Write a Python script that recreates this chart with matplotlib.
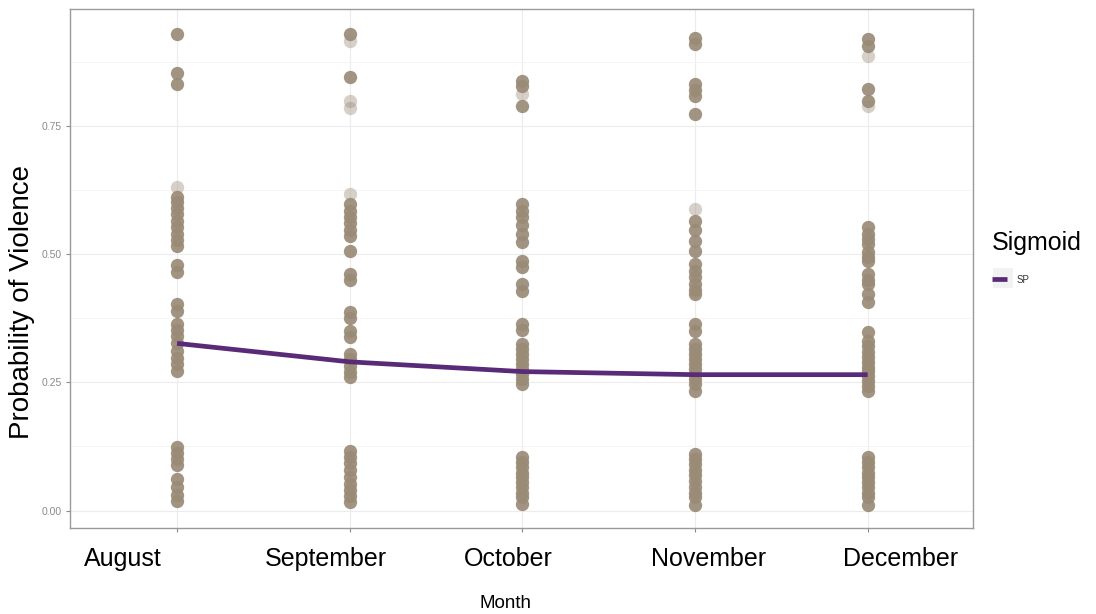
import numpy as np
import matplotlib.pyplot as plt
import matplotlib.transforms as mtransforms
from matplotlib.patches import Rectangle

plt.rcParams['font.family'] = ['Liberation Sans', 'DejaVu Sans']

# Mesi e probabilita' osservate per ogni mese
months = ["August", "September", "October", "November", "December"]

aug = [0.930, 0.854, 0.832, 0.612, 0.602, 0.590, 0.578, 0.565, 0.552, 0.540, 0.528,
       0.516, 0.478, 0.466, 0.403, 0.390, 0.364, 0.352, 0.340, 0.326, 0.312,
       0.298, 0.285, 0.273, 0.123, 0.113, 0.100, 0.088, 0.062, 0.045, 0.030, 0.019]
sep = [0.929, 0.845, 0.598, 0.585, 0.572, 0.560, 0.548, 0.536, 0.507, 0.462,
       0.450, 0.387, 0.375, 0.351, 0.338, 0.306, 0.295, 0.282, 0.270, 0.260,
       0.117, 0.104, 0.092, 0.080, 0.066, 0.052, 0.040, 0.028, 0.016]
oct_ = [0.838, 0.828, 0.789, 0.598, 0.585, 0.572, 0.556, 0.540, 0.523, 0.487, 0.474,
        0.442, 0.429, 0.364, 0.352, 0.325, 0.315, 0.306, 0.296, 0.286, 0.276,
        0.267, 0.257, 0.247, 0.104, 0.094, 0.084, 0.074, 0.065, 0.055, 0.045,
        0.035, 0.026, 0.013]
nov = [0.922, 0.910, 0.832, 0.820, 0.809, 0.773, 0.565, 0.548, 0.526, 0.507, 0.481,
       0.468, 0.456, 0.442, 0.430, 0.422, 0.364, 0.350, 0.325, 0.315, 0.306,
       0.296, 0.286, 0.276, 0.266, 0.256, 0.247, 0.234, 0.110, 0.100, 0.091,
       0.080, 0.070, 0.057, 0.045, 0.035, 0.026, 0.010]
dec = [0.919, 0.906, 0.822, 0.799, 0.552, 0.540, 0.530, 0.520, 0.505, 0.495,
       0.487, 0.461, 0.450, 0.442, 0.422, 0.406, 0.348, 0.330, 0.320, 0.309, 0.299,
       0.290, 0.280, 0.273, 0.263, 0.253, 0.243, 0.234, 0.104, 0.094, 0.084, 0.074,
       0.065, 0.055, 0.045, 0.035, 0.026, 0.010]

# osservazioni singole (piu' chiare)
aug_single = [0.630]
sep_single = [0.916, 0.799, 0.784, 0.618]
oct_single = [0.812]
nov_single = [0.588]
dec_single = [0.887, 0.789]

# curva sigmoide (SP)
sp = [0.326, 0.290, 0.271, 0.265, 0.265]

fig = plt.figure(figsize=(10.96, 6.14), dpi=100)
ax = fig.add_axes([70 / 1096, 1 - 527.5 / 614, 903 / 1096, 518.5 / 614])

point_col = '#9a8b77'
for i, (vals, singles) in enumerate(zip([aug, sep, oct_, nov, dec],
                                        [aug_single, sep_single, oct_single,
                                         nov_single, dec_single])):
    ax.scatter([i] * len(singles), singles, s=92, color=point_col, alpha=0.4,
               linewidths=0, zorder=3)
    ax.scatter([i] * len(vals), vals, s=92, color=point_col, alpha=0.92,
               linewidths=0, zorder=3)

ax.plot(range(len(months)), sp, color='#592a77', lw=3.4, solid_capstyle='butt',
        zorder=4, label='SP')

ax.set_xlim(-0.62, 4.61)
ax.set_ylim(-0.033, 0.978)
ax.set_yticks([0, 0.25, 0.5, 0.75])
ax.set_yticklabels(["0.00", "0.25", "0.50", "0.75"], fontsize=7.5, color='#8a8a8a')
ax.set_yticks([0.125, 0.375, 0.625, 0.875], minor=True)
ax.set_xticks(range(len(months)))
ax.set_xticklabels(months, fontsize=18)
ax.tick_params(axis='y', which='major', length=3, color='#8a8a8a', pad=3)
ax.tick_params(axis='y', which='minor', length=0)
ax.tick_params(axis='x', length=3, color='#8a8a8a', pad=11)

# sposta le etichette dei mesi
shifts = [-54, -24, -14, 14, 33]
for lab, dx in zip(ax.get_xticklabels(), shifts):
    lab.set_transform(lab.get_transform() +
                      mtransforms.ScaledTranslation(dx / 100, 0, fig.dpi_scale_trans))

ax.grid(True, which='major', color='#ececec', lw=0.8)
ax.grid(True, which='minor', axis='y', color='#f4f4f4', lw=0.6)
ax.set_axisbelow(True)
for s in ax.spines.values():
    s.set_color('#9a9a9a')
    s.set_linewidth(1.0)

ax.set_xlabel("Month", fontsize=13.5)
ax.xaxis.label.set_va('center')
ax.xaxis.set_label_coords((506 - 70) / 903, -(604 - 527.5) / 518.5)
ax.set_ylabel("Probability of Violence", fontsize=20)
ax.yaxis.label.set_va('center')
ax.yaxis.set_label_coords((22 - 70) / 903, 1 - (302 - 9) / 518.5)

# legenda
fig.patches.append(Rectangle((993 / 1096, 1 - 288 / 614), 20 / 1096, 20 / 614,
                             transform=fig.transFigure, facecolor='#f2f2f2',
                             edgecolor='none'))
leg = fig.legend(loc='upper left', bbox_to_anchor=(983 / 1096, 1 - 222 / 614),
                 title='Sigmoid', fontsize=7, title_fontsize=18, frameon=False,
                 handlelength=1.6, handletextpad=1.0, labelspacing=2.05,
                 alignment='left')
leg.get_texts()[0].set_color('#333333')

fig.savefig("out.png", dpi=100)
